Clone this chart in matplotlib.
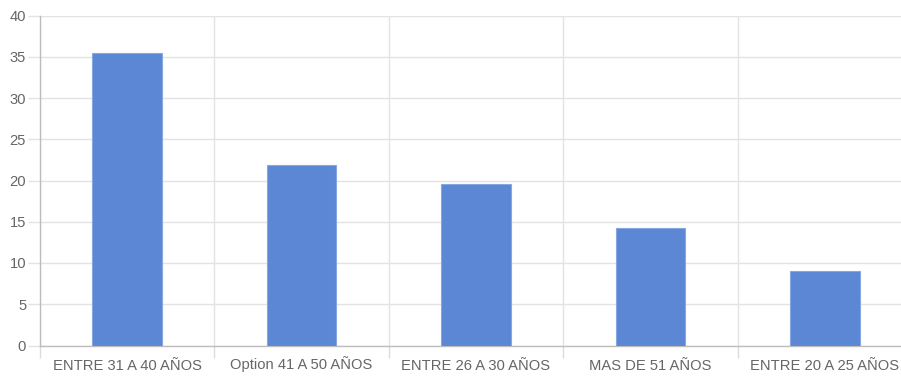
import matplotlib
matplotlib.use("Agg")
import matplotlib.pyplot as plt
import matplotlib.transforms as mtransforms
import numpy as np

categories = ["ENTRE 31 A 40 AÑOS", "Option 41 A 50 AÑOS", "ENTRE 26 A 30 AÑOS",
              "MAS DE 51 AÑOS", "ENTRE 20 A 25 AÑOS"]
values = [35.5, 21.9, 19.6, 14.3, 9.0]
y_ticks = [0, 5, 10, 15, 20, 25, 30, 35, 40]

plt.rcParams['font.family'] = ['Liberation Sans', 'DejaVu Sans']

fig = plt.figure(figsize=(9.01, 3.77), dpi=100)
W, H = 901, 377
ax = fig.add_axes([40 / W, 31.5 / H, 872 / W, 330 / H])

x = np.arange(len(categories))
ax.bar(x, values, width=0.4, color='#5b87d5', edgecolor='#86a8e2', linewidth=0.8, zorder=3)

ax.set_xlim(-0.5, len(categories) - 0.5)
ax.set_ylim(0, 40)
ax.set_yticks(y_ticks)
ax.set_xticks(x)
ax.set_xticklabels([])
ax.set_xticks(np.arange(len(categories) + 1) - 0.5, minor=True)

# category labels, baseline-aligned
trans = mtransforms.offset_copy(ax.get_xaxis_transform(), fig=fig, x=0, y=-24, units='dots')
for xi, lab in zip(x, categories):
    ax.text(xi, 0, lab, transform=trans, ha='center', va='baseline',
            fontsize=10.6, color='#666666', clip_on=False)

ax.grid(axis='y', color='#e3e3e3', linewidth=1, zorder=0)
ax.grid(axis='x', which='minor', color='#e3e3e3', linewidth=1, zorder=0)
ax.grid(axis='x', which='major', visible=False)

for s in ['top', 'right']:
    ax.spines[s].set_visible(False)
for s in ['left', 'bottom']:
    ax.spines[s].set_color('#bdbdbd')
    ax.spines[s].set_linewidth(1)

ax.tick_params(axis='x', which='major', length=0)
ax.tick_params(axis='x', which='minor', length=8.5, color='#dcdcdc', width=1)
ax.tick_params(axis='y', length=9, color='#e3e3e3', width=1, pad=1, labelsize=10.6, labelcolor='#666666')

fig.savefig('out.png', dpi=100)
